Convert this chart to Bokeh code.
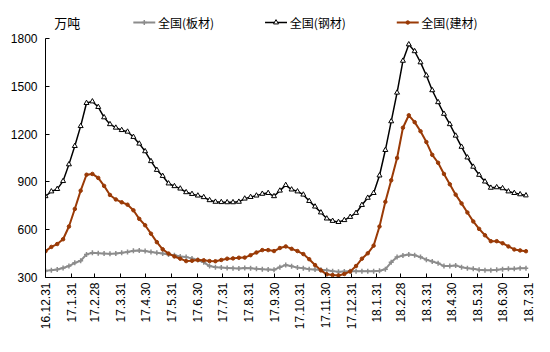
import pandas as pd
from bokeh.plotting import figure
from bokeh.layouts import column
from bokeh.models import FixedTicker, Range1d
from bokeh.core.properties import value
from bokeh.embed import file_html
from bokeh.resources import INLINE

start = "2016-12-31"
week_dates = pd.date_range(start, periods=83, freq="7D")

# 全国(板材)
bancai = [342, 345, 350, 360, 372, 392, 405, 445, 455, 452,
          450, 449, 450, 455, 460, 468, 470, 466, 460, 455,
          450, 445, 440, 432, 428, 420, 410, 395, 372, 365,
          362, 360, 358, 357, 360, 358, 355, 352, 350, 348,
          365, 378, 370, 362, 358, 352, 350, 349, 346, 340,
          336, 338, 340, 340, 340, 340, 340, 342, 352, 395,
          428, 438, 444, 440, 428, 412, 400, 390, 372, 372,
          376, 365, 358, 355, 348, 345, 345, 348, 352, 355,
          355, 358, 358]
# 全国(钢材)
gangcai = [810, 840, 855, 905, 1010, 1125, 1250, 1395, 1405, 1370,
           1305, 1262, 1240, 1225, 1215, 1182, 1140, 1092, 1030, 975,
           937, 890, 873, 858, 835, 824, 814, 804, 785, 775,
           773, 772, 772, 775, 795, 805, 814, 825, 830, 810,
           845, 880, 852, 840, 820, 780, 745, 708, 670, 655,
           648, 660, 680, 705, 755, 800, 830, 940, 1100, 1280,
           1460, 1660, 1763, 1720, 1650, 1568, 1475, 1400, 1327, 1262,
           1190, 1120, 1053, 995, 944, 902, 863, 866, 860, 840,
           830, 822, 815]
# 全国(建材)
jiancai = [465, 492, 510, 540, 620, 730, 845, 945, 950, 925,
           875, 818, 790, 772, 757, 722, 668, 628, 575, 522,
           477, 450, 432, 418, 403, 405, 410, 408, 403, 402,
           410, 418, 420, 424, 425, 440, 457, 472, 472, 466,
           485, 495, 480, 466, 447, 415, 378, 345, 320, 315,
           313, 322, 338, 372, 418, 452, 500, 620, 775, 910,
           1050, 1240, 1318, 1275, 1218, 1150, 1070, 1020, 950, 885,
           820, 765, 708, 652, 605, 565, 528, 528, 515, 495,
           476, 470, 465]

tick_dates = ["2016-12-31", "2017-01-31", "2017-02-28", "2017-03-31", "2017-04-30",
              "2017-05-31", "2017-06-30", "2017-07-31", "2017-08-31", "2017-09-30",
              "2017-10-31", "2017-11-30", "2017-12-31", "2018-01-31", "2018-02-28",
              "2018-03-31", "2018-04-30", "2018-05-31", "2018-06-30", "2018-07-31"]
tick_labels = ["16.12.31", "17.1.31", "17.2.28", "17.3.31", "17.4.30",
               "17.5.31", "17.6.30", "17.7.31", "17.8.31", "17.9.30",
               "17.10.31", "17.11.30", "17.12.31", "18.1.31", "18.2.28",
               "18.3.31", "18.4.30", "18.5.31", "18.6.30", "18.7.31"]
y_ticks = [300, 600, 900, 1200, 1500, 1800]
series_names = ["全国(板材)", "全国(钢材)", "全国(建材)"]
unit_label = "万吨"

t0 = pd.Timestamp(start)
x = [(d - t0).days for d in week_dates]
tick_pos = [(pd.Timestamp(d) - t0).days for d in tick_dates]

FONT = "Liberation Sans"
CJK = "Noto Sans CJK SC"
GRAY = "#8c8c8c"
BLACK = "#000000"
BROWN = "#9a3a06"

styles = [
    dict(lc=GRAY, lw=2, marker="cross", ms=5, fc=GRAY, mlw=1.5),
    dict(lc=BLACK, lw=1.5, marker="triangle", ms=5, fc="white", mlw=1),
    dict(lc=BROWN, lw=2, marker="circle", ms=3.5, fc=BROWN, mlw=1),
]

# ---- header strip: unit label + legend (pixel-space layout) ----
TOP_H = 32
LEG_Y = 22
LEG_X = [100, 250, 400]
SWATCH = 25
head = figure(width=550, height=TOP_H, output_backend="svg", toolbar_location=None,
              x_axis_type=None, y_axis_type=None,
              x_range=Range1d(0, 550), y_range=Range1d(TOP_H, 0),
              min_border_left=0, min_border_right=0, min_border_top=0, min_border_bottom=0)
head.outline_line_color = None
head.grid.visible = False
head.background_fill_color = "white"
head.border_fill_color = "white"
head.text(x=[10], y=[LEG_Y], text=[unit_label], text_baseline="middle", text_align="left",
          text_font=value(CJK), text_font_size="13px", text_color="black")
for name, st, lx in zip(series_names, styles, LEG_X):
    head.line([lx, lx + SWATCH], [LEG_Y, LEG_Y], line_color=st["lc"], line_width=st["lw"])
    head.scatter([lx + SWATCH / 2], [LEG_Y], marker=st["marker"], size=st["ms"],
                 line_color=st["lc"], fill_color=st["fc"], line_width=st["mlw"])
    head.text(x=[lx + SWATCH + 3], y=[LEG_Y], text=[name], text_baseline="middle",
              text_align="left", text_font=value(CJK), text_font_size="12px", text_color="black")

# ---- main chart ----
p = figure(width=550, height=352 - TOP_H, output_backend="svg", toolbar_location=None,
           x_range=Range1d(tick_pos[0], tick_pos[-1]), y_range=Range1d(y_ticks[0], y_ticks[-1]),
           min_border_left=45, min_border_right=22, min_border_top=38 - TOP_H, min_border_bottom=75)
p.outline_line_color = None
p.grid.visible = False
p.background_fill_color = "white"
p.border_fill_color = "white"

for ax in (p.xaxis[0], p.yaxis[0]):
    ax.major_tick_in = 4
    ax.major_tick_out = 0
    ax.minor_tick_line_color = None
    ax.axis_line_color = "black"
    ax.major_tick_line_color = "black"
    ax.major_label_text_font = FONT
    ax.major_label_text_font_size = "12px"
    ax.major_label_text_color = "black"

p.xaxis.ticker = FixedTicker(ticks=tick_pos)
p.xaxis.major_label_overrides = {tp: lb for tp, lb in zip(tick_pos, tick_labels)}
p.xaxis.major_label_orientation = 3.14159265 / 2
p.xaxis.major_label_standoff = 5
p.yaxis.ticker = FixedTicker(ticks=y_ticks)
p.yaxis.major_label_standoff = 8

for vals, st in zip([bancai, gangcai, jiancai], styles):
    p.line(x, vals, line_color=st["lc"], line_width=st["lw"])
    p.scatter(x, vals, marker=st["marker"], size=st["ms"], line_color=st["lc"],
              fill_color=st["fc"], line_width=st["mlw"])

layout = column(head, p, spacing=0)
open("out.html", "w").write(file_html(layout, INLINE))
